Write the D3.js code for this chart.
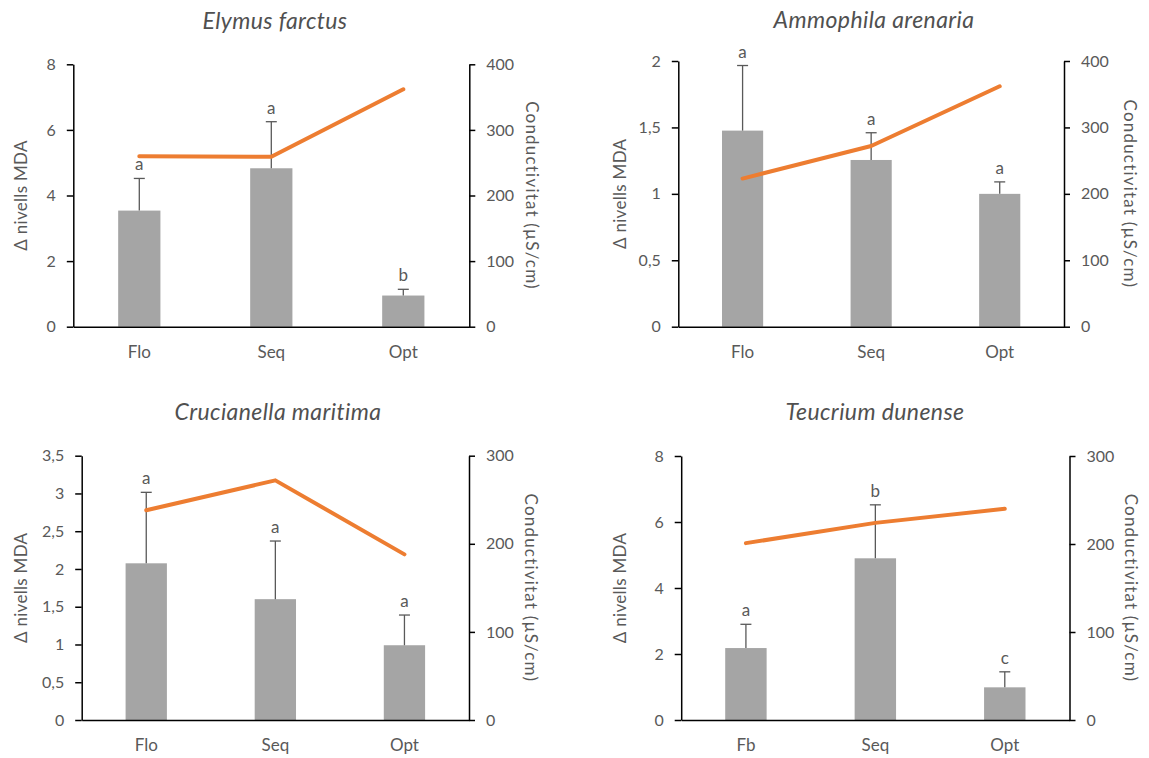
<!DOCTYPE html>
<html>
<head>
<meta charset="utf-8">
<script src="https://cdn.jsdelivr.net/npm/d3@7"></script>
<style>
  html, body { margin: 0; padding: 0; background: #fff; }
  svg { display: block; }
  text { font-family: Lato, "Open Sans", sans-serif; }
</style>
</head>
<body>
<svg id="chart" width="1149" height="758"></svg>
<script>
// ---------- data ----------
const titles = ["Elymus farctus", "Ammophila arenaria", "Crucianella maritima", "Teucrium dunense"];
const categories = [
  ["Flo", "Seq", "Opt"],
  ["Flo", "Seq", "Opt"],
  ["Flo", "Seq", "Opt"],
  ["Fb", "Seq", "Opt"]
];
const mdaMeans = [
  [3.54, 4.83, 0.95],
  [1.476, 1.255, 1.0],
  [2.075, 1.60, 0.99],
  [2.18, 4.90, 0.99]
];
const mdaErrors = [
  [0.98, 1.42, 0.19],
  [0.49, 0.205, 0.09],
  [0.94, 0.77, 0.40],
  [0.72, 1.62, 0.47]
];
const conductivity = [
  [260, 259, 362],
  [223, 272, 362],
  [238, 272, 188],
  [201, 224, 240]
];
const letters = [
  ["a", "a", "b"],
  ["a", "a", "a"],
  ["a", "a", "a"],
  ["a", "b", "c"]
];
const leftTicks = [
  [0, 2, 4, 6, 8],
  [0, 0.5, 1, 1.5, 2],
  [0, 0.5, 1, 1.5, 2, 2.5, 3, 3.5],
  [0, 2, 4, 6, 8]
];
const rightTicks = [
  [0, 100, 200, 300, 400],
  [0, 100, 200, 300, 400],
  [0, 100, 200, 300],
  [0, 100, 200, 300]
];
const leftLabel = "\u0394 nivells MDA";
const rightLabel = "Conductivitat (\u00B5S/cm)";

// ---------- layout ----------
const panels = [
  { left: 73.3, right: 469.3, top: 64.3, bottom: 326.7, titleX: 275, titleY: 29, ylabX: 20, rlabX: 532, catY: 357 },
  { left: 678.3, right: 1064, top: 61, bottom: 326.7, titleX: 874, titleY: 28, ylabX: 619, rlabX: 1130, catY: 357 },
  { left: 81.7, right: 469, top: 455.7, bottom: 720, titleX: 278, titleY: 420, ylabX: 20, rlabX: 531, catY: 750 },
  { left: 681.2, right: 1069.5, top: 456, bottom: 720, titleX: 875, titleY: 420, ylabX: 619, rlabX: 1131, catY: 750 }
];

const textColor = "#595959";
const barColor = "#A5A5A5";
const lineColor = "#ED7D31";
const fmt = v => String(v).replace(".", ",");

const svg = d3.select("#chart");

panels.forEach((p, i) => {
  const g = svg.append("g");
  const x = d3.scaleBand().domain(categories[i]).range([p.left, p.right])
    .paddingInner(0.68).paddingOuter(0.34);
  const lt = leftTicks[i], rt = rightTicks[i];
  const yL = d3.scaleLinear().domain([0, lt[lt.length - 1]]).range([p.bottom, p.top]);
  const yR = d3.scaleLinear().domain([0, rt[rt.length - 1]]).range([p.bottom, p.top]);

  // title
  g.append("text").attr("x", p.titleX).attr("y", p.titleY)
    .attr("text-anchor", "middle").attr("font-size", 23).attr("font-style", "italic")
    .attr("letter-spacing", 0.4)
    .attr("fill", "#505050").text(titles[i]);

  // bars
  const rows = categories[i].map((c, k) => ({ c, m: mdaMeans[i][k], e: mdaErrors[i][k], cond: conductivity[i][k], l: letters[i][k] }));
  g.selectAll(".bar").data(rows).enter().append("rect")
    .attr("x", d => x(d.c)).attr("width", x.bandwidth())
    .attr("y", d => yL(d.m)).attr("height", d => yL(0) - yL(d.m))
    .attr("fill", barColor);

  // error bars (upper only)
  const cx = d => x(d.c) + x.bandwidth() / 2;
  const eg = g.append("g").attr("stroke", textColor).attr("stroke-width", 1.3);
  eg.selectAll(".ev").data(rows).enter().append("line")
    .attr("x1", cx).attr("x2", cx).attr("y1", d => yL(d.m)).attr("y2", d => yL(d.m + d.e));
  eg.selectAll(".ec").data(rows).enter().append("line")
    .attr("x1", d => cx(d) - 5.5).attr("x2", d => cx(d) + 5.5)
    .attr("y1", d => yL(d.m + d.e)).attr("y2", d => yL(d.m + d.e));

  // significance letters
  g.selectAll(".let").data(rows).enter().append("text")
    .attr("x", cx).attr("y", d => yL(d.m + d.e) - 8)
    .attr("text-anchor", "middle").attr("font-size", 17).attr("fill", textColor)
    .text(d => d.l);

  // left axis
  const axL = g.append("g").attr("transform", `translate(${p.left},0)`)
    .call(d3.axisLeft(yL).tickValues(lt).tickFormat(fmt).tickSize(6.5).tickSizeOuter(0).tickPadding(11));
  // right axis
  const axR = g.append("g").attr("transform", `translate(${p.right},0)`)
    .call(d3.axisRight(yR).tickValues(rt).tickSize(6).tickSizeOuter(0).tickPadding(11));
  // bottom axis
  const axB = g.append("g").attr("transform", `translate(0,${p.bottom})`)
    .call(d3.axisBottom(x).tickSize(0).tickSizeOuter(0).tickPadding(19));

  [axL, axR, axB].forEach(ax => {
    ax.select(".domain").attr("stroke", "#000").attr("stroke-width", 1.5);
    ax.selectAll(".tick line").attr("stroke", "#000").attr("stroke-width", 1.5);
    ax.selectAll(".tick text").attr("fill", textColor).attr("font-size", 16)
      .attr("font-family", "Lato, 'Open Sans', sans-serif");
  });
  axB.selectAll(".tick text").attr("font-size", 17);

  // conductivity line
  const line = d3.line().x(cx).y(d => yR(d.cond));
  g.append("path").datum(rows).attr("d", line)
    .attr("fill", "none").attr("stroke", lineColor).attr("stroke-width", 4)
    .attr("stroke-linecap", "round").attr("stroke-linejoin", "round");

  // axis titles
  const cy = (p.top + p.bottom) / 2;
  g.append("text").attr("transform", `translate(${p.ylabX},${cy}) rotate(-90)`)
    .attr("text-anchor", "middle").attr("dominant-baseline", "central")
    .attr("font-size", 17).attr("letter-spacing", 0.3)
    .attr("fill", textColor).text(leftLabel);
  g.append("text").attr("transform", `translate(${p.rlabX},${cy}) rotate(90)`)
    .attr("text-anchor", "middle").attr("dominant-baseline", "central")
    .attr("font-size", 17).attr("letter-spacing", 1.2)
    .attr("fill", textColor).text(rightLabel);
});
</script>
</body>
</html>
